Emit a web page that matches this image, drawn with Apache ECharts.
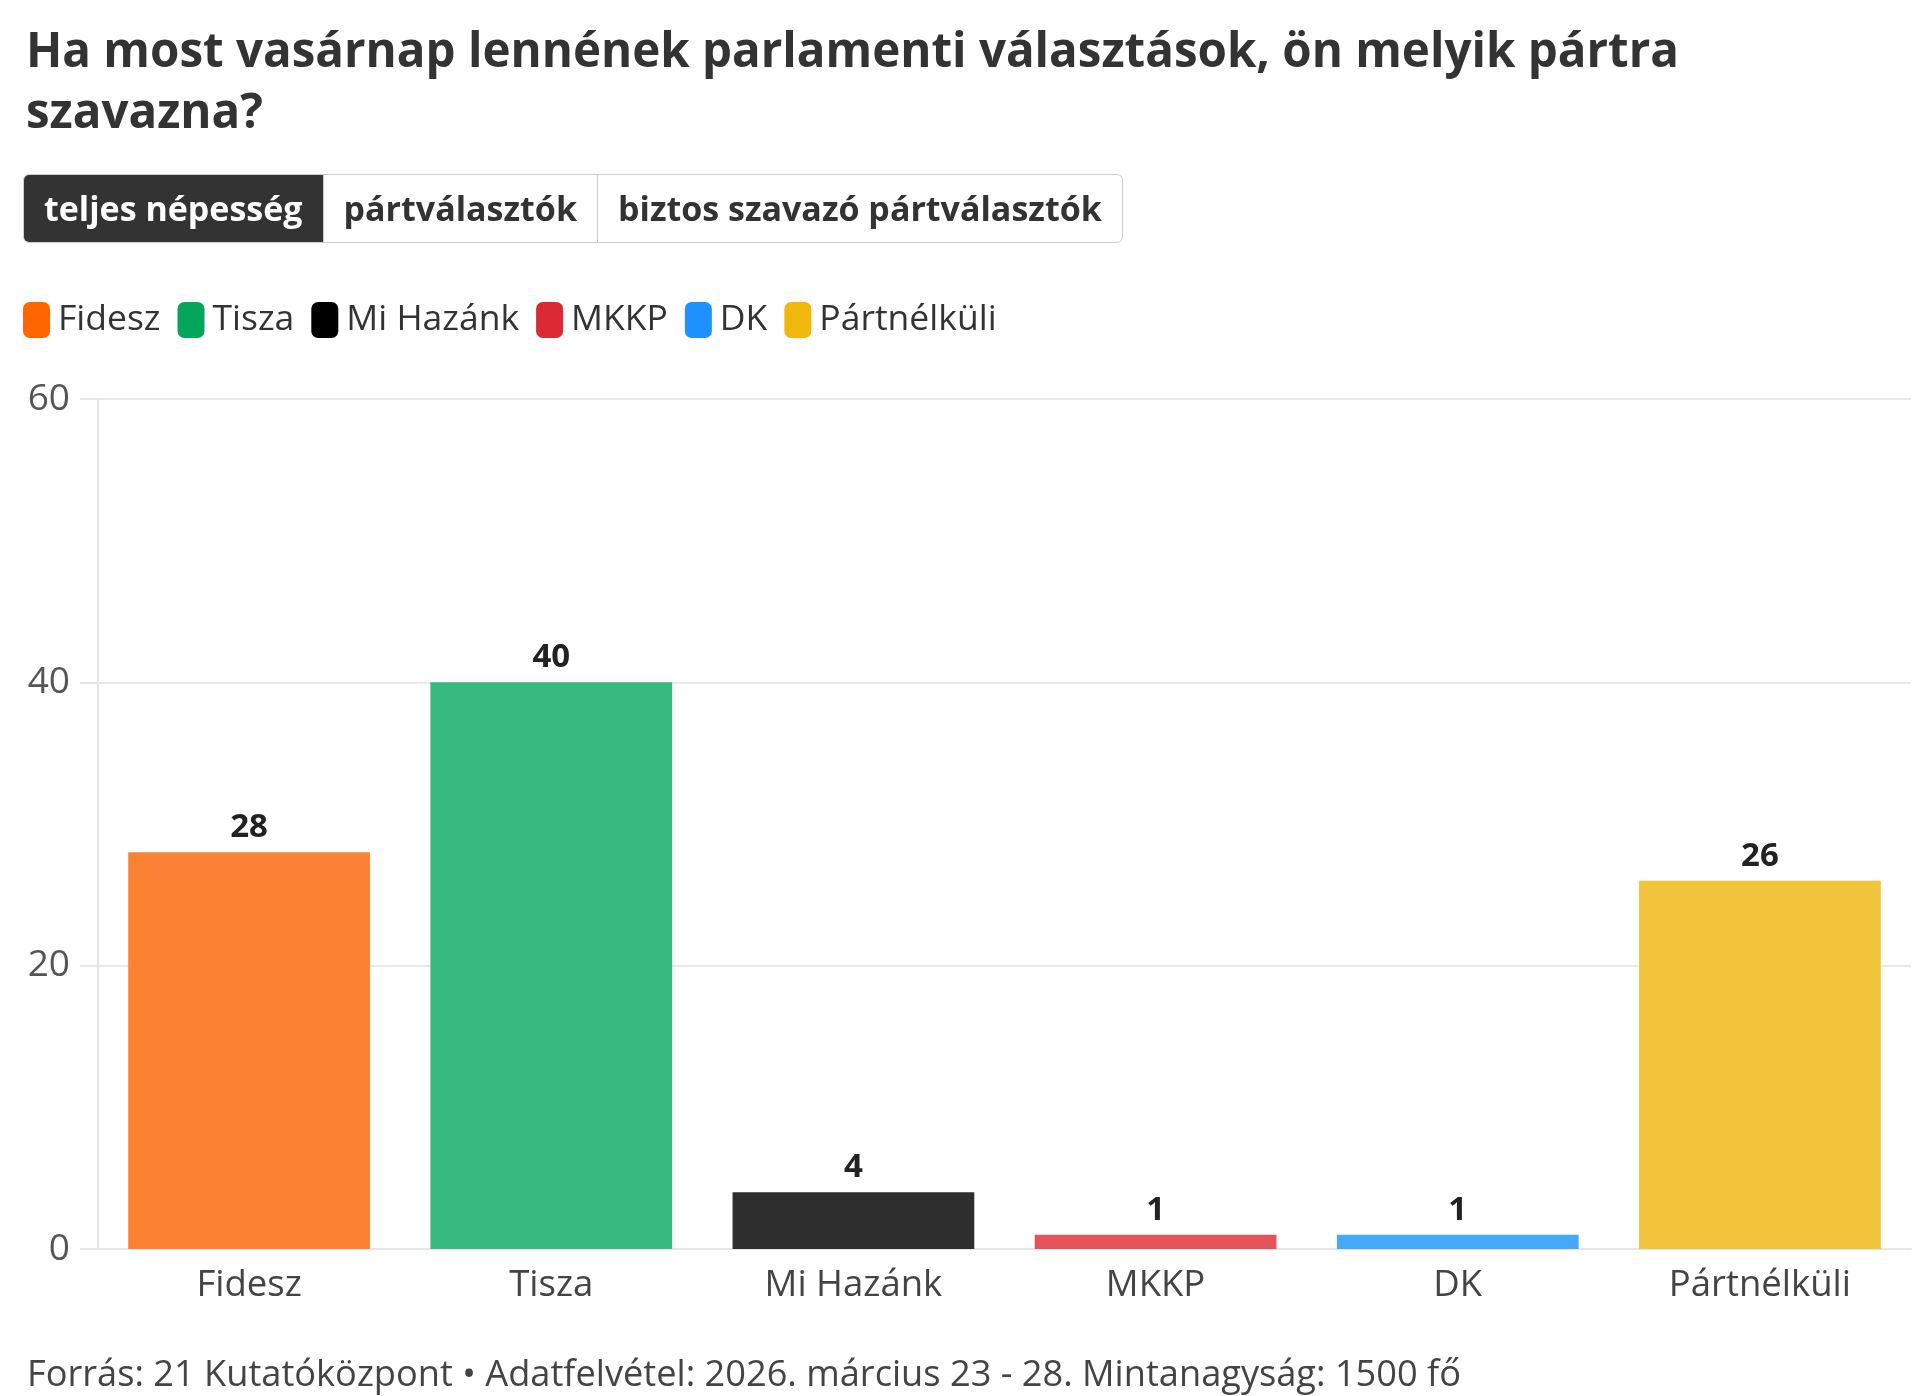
<!DOCTYPE html>
<html>
<head>
<meta charset="utf-8">
<script src="https://cdn.jsdelivr.net/npm/echarts@6/dist/echarts.min.js"></script>
<style>
  html, body { margin: 0; padding: 0; background: #fff; }
  body { width: 1920px; height: 1396px; position: relative; overflow: hidden; font-family: "Open Sans", sans-serif; }
  #chart { position: absolute; left: 0; top: 0; width: 1920px; height: 1396px; }
  #title { position: absolute; left: 26px; top: 18px; font-size: 47.5px; font-weight: bold; color: #333; line-height: 61px; white-space: nowrap; }
  #tabs { position: absolute; left: 23px; top: 174px; display: flex; height: 67px; border: 1px solid #ccc; border-radius: 6px; overflow: hidden; }
  #tabs div { padding: 0 20px; font-size: 34px; font-weight: bold; color: #333; line-height: 67px; border-left: 1px solid #ccc; }
  #tabs div.on { background: #333; color: #fff; border-left: none; }
  #footer { position: absolute; left: 27px; top: 1347px; font-size: 36.2px; color: #444; white-space: nowrap; }
</style>
</head>
<body>
<div id="chart"></div>
<div id="title">Ha most vasárnap lennének parlamenti választások, ön melyik pártra<br>szavazna?</div>
<div id="tabs"><div class="on">teljes népesség</div><div>pártválasztók</div><div>biztos szavazó pártválasztók</div></div>
<div id="footer">Forrás: 21 Kutatóközpont • Adatfelvétel: 2026. március 23 - 28. Mintanagyság: 1500 fő</div>
<script>
var parties = ['Fidesz', 'Tisza', 'Mi Hazánk', 'MKKP', 'DK', 'Pártnélküli'];
var shares = [28, 40, 4, 1, 1, 26];
var legendColors = ['#ff6600', '#06a55c', '#000000', '#dc2a35', '#1e90ff', '#f1b70c'];
var barColors = ['#fb8232', '#38b97f', '#2e2e2e', '#e4545a', '#46a8f8', '#f2c43b'];
var yTicks = [0, 20, 40, 60];

var series = parties.map(function (p, i) {
    return {
        name: p,
        type: 'bar',
        stack: 'all',
        barWidth: '80%',
        itemStyle: { color: barColors[i] },
        label: {
            show: true,
            position: 'top',
            distance: 8,
            fontSize: 33,
            fontWeight: 'bold',
            color: '#222'
        },
        data: parties.map(function (q, j) { return j === i ? shares[i] : '-'; })
    };
});

document.addEventListener("DOMContentLoaded", () => {
    echarts.init(document.querySelector("#chart")).setOption({
        animation: false,
        textStyle: { fontFamily: 'Open Sans' },
        legend: {
            left: 23,
            top: 302,
            padding: 0,
            itemWidth: 27,
            itemHeight: 36,
            itemGap: 17,
            icon: 'roundRect',
            textStyle: { fontSize: 35.5, color: '#333', padding: [0, 0, 0, 3] },
            data: parties.map(function (p, i) { return { name: p, itemStyle: { color: legendColors[i] } }; })
        },
        grid: { left: 98, right: 9, top: 399, bottom: 147, containLabel: false },
        xAxis: {
            type: 'category',
            data: parties,
            axisLine: { lineStyle: { color: '#e6e6e6', width: 2 } },
            axisTick: { alignWithLabel: true, length: 12, lineStyle: { color: '#e0e0e0', width: 2 } },
            axisLabel: { fontSize: 36.5, color: '#444', margin: 18 }
        },
        yAxis: {
            type: 'value',
            min: yTicks[0],
            max: yTicks[yTicks.length - 1],
            interval: yTicks[1] - yTicks[0],
            axisLine: { show: true, lineStyle: { color: '#e6e6e6', width: 2 } },
            axisTick: { show: true, length: 18, lineStyle: { color: '#e6e6e6', width: 2 } },
            splitLine: { lineStyle: { color: '#e8e8e8', width: 2 } },
            axisLabel: { fontSize: 37, color: '#555', margin: 28 }
        },
        series: series
    });
});
</script>
</body>
</html>
